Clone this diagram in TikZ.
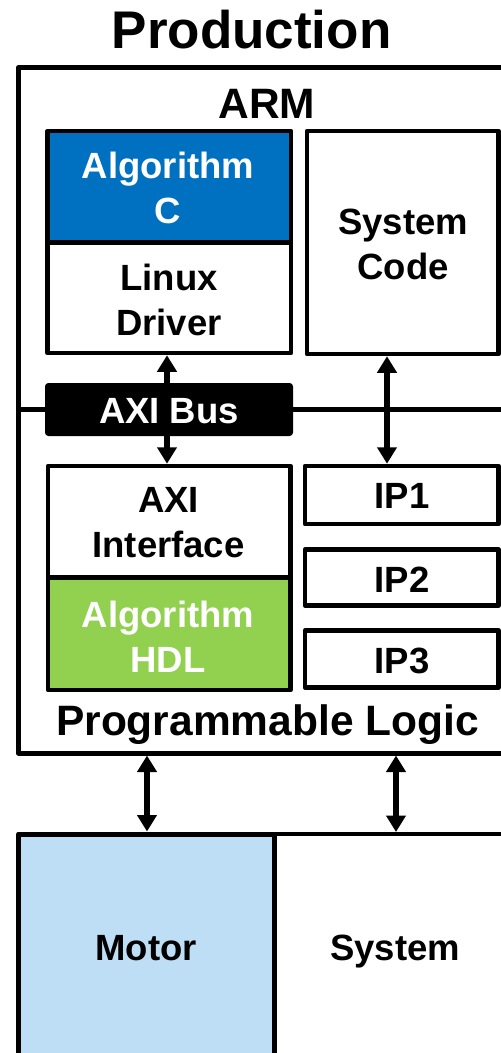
\documentclass[tikz,border=0pt]{standalone}
\usepackage{fontspec}
\setmainfont{Liberation Sans}
\usetikzlibrary{arrows.meta}
\definecolor{algblue}{RGB}{0,112,192}
\definecolor{hdlgreen}{RGB}{146,208,80}
\definecolor{motorblue}{RGB}{190,222,245}
\begin{document}
\begin{tikzpicture}[x=1pt,y=-1pt,
  box/.style={draw, line width=4.5pt, line join=round, inner sep=0pt, fill=white},
  lbl/.style={font=\fontsize{36.5}{45}\selectfont\bfseries, align=center, inner sep=0pt},
  biglbl/.style={font=\fontsize{42.5}{50}\selectfont\bfseries, inner sep=0pt, anchor=base},
  link/.style={line width=5.5pt, {Triangle[width=19pt,length=16.5pt]}-{Triangle[width=19pt,length=16.5pt]}}]
\useasboundingbox (0,0) rectangle (501,1053);

% title
\node[font=\fontsize{53}{60}\selectfont\bfseries, inner sep=0pt, anchor=base] (title) at (251.5,48) {Production};

% chip outline and ARM / PL split
\node[box, line width=5pt, minimum width=506.5pt, minimum height=685.5pt] (chip) at (271.75,410.25) {};
\draw[line width=4.5pt] (chip.west |- 0,409.5) -- (530,409.5);
\node[biglbl] (arm) at (267,118) {ARM};
\node[biglbl] (pl) at (267.5,735) {Programmable Logic};

% ARM side
\node[box, fill=algblue, minimum width=243.5pt, minimum height=111.5pt] (algc) at (169.25,186.75) {};
\node[box, minimum width=243.5pt, minimum height=110.5pt] (linux) at (169.25,297.75) {};
\node[box, minimum width=191.5pt, minimum height=223pt] (syscode) at (402.75,242.5) {};
\node[lbl, text=white] (algctext) at (168,188) {Algorithm\\C};
\node[lbl] (linuxtext) at (169,300) {Linux\\Driver};
\node[lbl] (syscodetext) at (403,244) {System\\Code};

% programmable logic side
\node[box, minimum width=242.5pt, minimum height=111.5pt] (axiif) at (169.25,521.75) {};
\node[box, fill=hdlgreen, minimum width=242.5pt, minimum height=112.5pt] (alghdl) at (169.25,633.75) {};
\node[lbl] (axiiftext) at (168.5,523) {AXI\\Interface};
\node[lbl, text=white] (alghdltext) at (168,637) {Algorithm\\HDL};
\node[box, minimum width=193.5pt, minimum height=58pt] (ip1) at (401.75,495) {};
\node[box, minimum width=193.5pt, minimum height=56pt] (ip2) at (401.75,577.5) {};
\node[box, minimum width=193.5pt, minimum height=57pt] (ip3) at (401.75,659) {};
\node[lbl, anchor=base] (ip1text) at (402,508) {IP1};
\node[lbl, anchor=base] (ip2text) at (402,592) {IP2};
\node[lbl, anchor=base] (ip3text) at (402,673) {IP3};

% AXI bus
\node[fill=black, draw=black, line width=1pt, rounded corners=3pt, minimum width=247pt, minimum height=52pt, inner sep=0pt] (axibus) at (169,409.5) {};
\node[lbl, text=white, anchor=base] (axibustext) at (169,423) {AXI Bus};

% external hardware
\node[box, line width=4pt, minimum width=265.5pt, minimum height=256pt] (system) at (407.25,962) {};
\node[box, line width=5pt, fill=motorblue, minimum width=256pt, minimum height=256pt] (motor) at (146.5,962) {};
\node[lbl, anchor=base] (motortext) at (146,960) {Motor};
\node[lbl, anchor=base] (systemtext) at (395,960) {System};

% connector columns
\coordinate (c1) at (167,0);
\coordinate (c2) at (387,0);
\coordinate (c3) at (147,0);
\coordinate (c4) at (396,0);

% connectors
\draw[link] (linux.south -| c1) -- (axiif.north -| c1);
\draw[link] (syscode.south -| c2) -- (ip1.north -| c2);
\draw[link] (chip.south -| c3) -- (motor.north -| c3);
\draw[link] (chip.south -| c4) -- (system.north -| c4);
\end{tikzpicture}
\end{document}
